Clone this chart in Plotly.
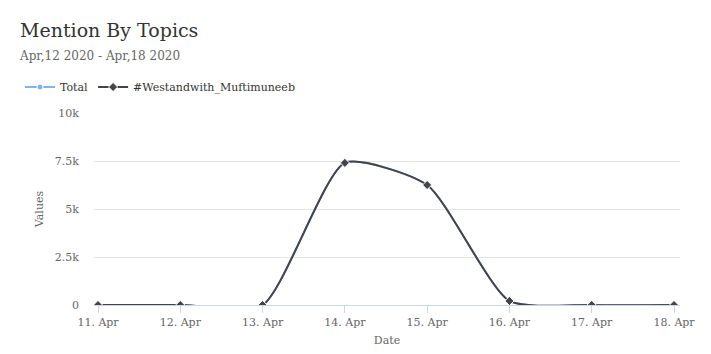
import plotly.graph_objects as go

dates = ["2020-04-11", "2020-04-12", "2020-04-13", "2020-04-14",
         "2020-04-15", "2020-04-16", "2020-04-17", "2020-04-18"]
total = [0, 0, 0, 7400, 6250, 210, 0, 0]
westand = [0, 0, 0, 7400, 6250, 210, 0, 0]
series_names = ["Total", "#Westandwith_Muftimuneeb"]
y_ticks = [0, 2500, 5000, 7500, 10000]
y_tick_labels = ["0", "2.5k", "5k", "7.5k", "10k"]

FONT = "DejaVu Serif"
W, H = 711, 354
L, R, T, B = 94, 31, 113, 49
pw = W - L - R
ph = H - T - B

fig = go.Figure()
fig.add_trace(go.Scatter(
    x=dates, y=total, name=series_names[0], mode="lines+markers",
    line=dict(color="#7cb5ec", width=2, shape="spline", smoothing=0.6),
    marker=dict(symbol="circle", size=6, color="#7cb5ec",
                line=dict(color="white", width=1)),
))
fig.add_trace(go.Scatter(
    x=dates, y=westand, name=series_names[1], mode="lines+markers",
    line=dict(color="#434348", width=2, shape="spline", smoothing=0.6),
    marker=dict(symbol="diamond", size=7, color="#434348",
                line=dict(color="white", width=1)),
))

fig.update_layout(
    width=W, height=H,
    margin=dict(l=L, r=R, t=T, b=B, autoexpand=False),
    paper_bgcolor="white", plot_bgcolor="white",
    font=dict(family=FONT, color="#666666", size=11),
    title=dict(text="Mention By Topics", xref="container", yref="container",
               x=20 / W, xanchor="left", y=1 - 30 / H, yanchor="middle",
               font=dict(family=FONT, size=19, color="#333333")),
    showlegend=True,
    legend=dict(orientation="h", xref="paper", yref="paper",
                x=(20 - L) / pw, xanchor="left",
                y=(H - B - 87) / ph, yanchor="middle",
                font=dict(family=FONT, size=11, color="#333333"),
                itemwidth=30, bgcolor="rgba(0,0,0,0)"),
    annotations=[dict(text="Apr,12 2020 - Apr,18 2020", xref="paper", yref="paper",
                      x=(17 - L) / pw, xanchor="left",
                      y=(H - B - 56) / ph, yanchor="middle", showarrow=False,
                      font=dict(family=FONT, size=12, color="#666666"))],
    hovermode="x",
)

fig.update_xaxes(
    type="date", automargin=False,
    range=["2020-04-10 22:50", "2020-04-18 01:45"],
    tickvals=dates, tickformat="%-d. %b",
    showgrid=False, showline=True, linecolor="#ccd6eb", linewidth=1,
    ticks="outside", tickcolor="#ccd6eb", ticklen=7, tickwidth=1,
    tickfont=dict(family=FONT, size=11, color="#666666"),
    title=dict(text="Date", font=dict(family=FONT, size=11, color="#666666"), standoff=8),
    zeroline=False,
)
fig.update_yaxes(
    range=[0, 10000], tickvals=y_ticks, ticktext=y_tick_labels, automargin=False,
    showgrid=True, gridcolor="#e6e6e6", gridwidth=1,
    showline=False, zeroline=False, ticks="", ticklabelstandoff=14,
    tickfont=dict(family=FONT, size=11, color="#666666"),
    title=dict(text="Values", font=dict(family=FONT, size=11, color="#666666"), standoff=8),
)

fig.write_html("out.html")
